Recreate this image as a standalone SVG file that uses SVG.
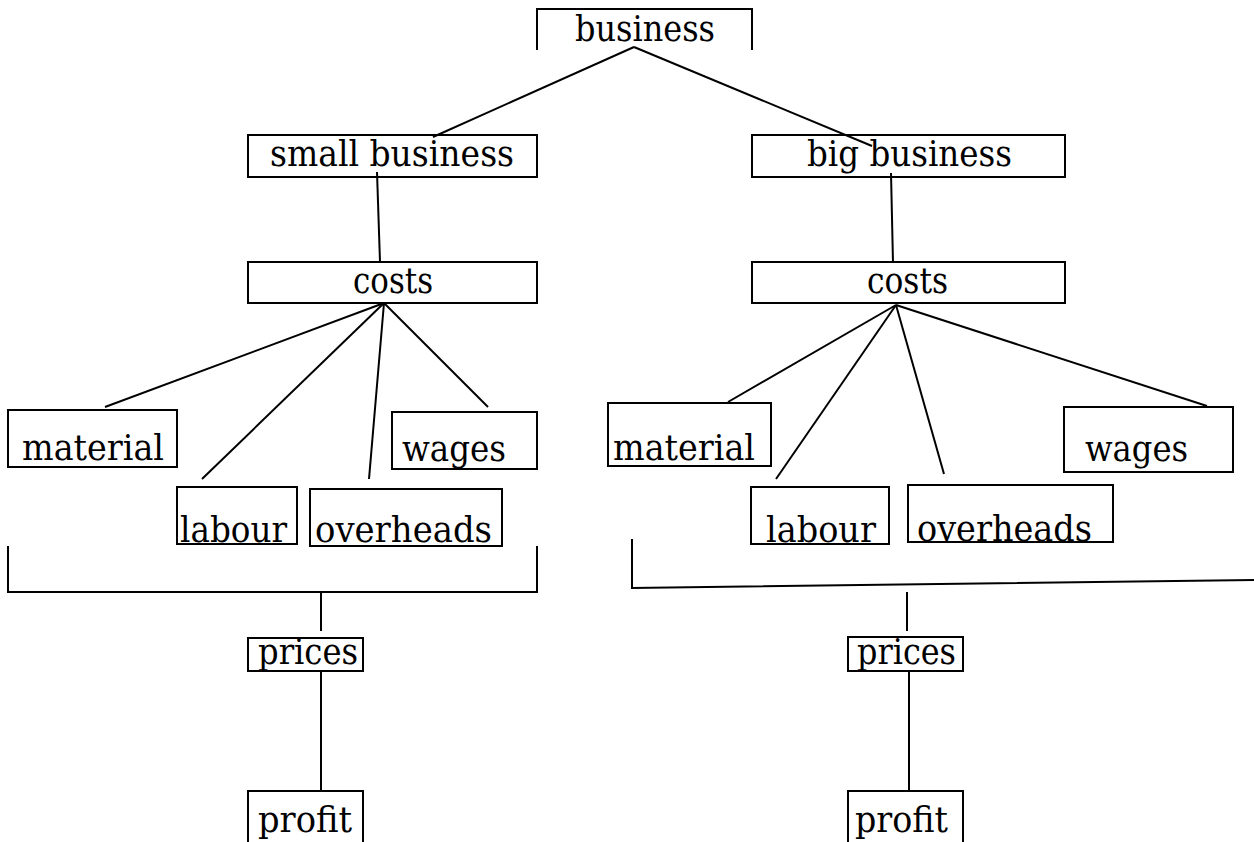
<svg xmlns="http://www.w3.org/2000/svg" width="1254" height="842" viewBox="0 0 1254 842">
  <style>
    .box { fill: none; stroke: #000; stroke-width: 2; }
    .lbl { font-family: "DejaVu Serif", "Liberation Serif", serif; font-size: 35px; fill: #000; }
    .edge { fill: none; stroke: #000; stroke-width: 2; }
  </style>
  <rect width="1254" height="842" fill="#fff"/>

  <g id="connectors">
    <line class="edge" x1="634" y1="47" x2="433" y2="137"/>
    <line class="edge" x1="634" y1="47" x2="872" y2="146"/>
    <line class="edge" x1="377" y1="172" x2="380" y2="262"/>
    <line class="edge" x1="891" y1="173" x2="893" y2="263"/>
    <!-- left cost fan -->
    <line class="edge" x1="384" y1="303" x2="105" y2="407"/>
    <line class="edge" x1="384" y1="303" x2="202" y2="479"/>
    <line class="edge" x1="384" y1="303" x2="369" y2="479"/>
    <line class="edge" x1="384" y1="303" x2="488" y2="407"/>
    <!-- right cost fan -->
    <line class="edge" x1="896" y1="305" x2="728" y2="402"/>
    <line class="edge" x1="896" y1="305" x2="776" y2="479"/>
    <line class="edge" x1="896" y1="305" x2="944" y2="474"/>
    <line class="edge" x1="896" y1="305" x2="1207" y2="406"/>
    <!-- brackets gathering the costs -->
    <polyline class="edge" points="8,546 8,592 537,592 537,546"/>
    <line class="edge" x1="321" y1="593" x2="321" y2="631"/>
    <polyline class="edge" points="632,539 632,588 1254,580"/>
    <line class="edge" x1="907" y1="592" x2="907" y2="631"/>
    <!-- prices to profit -->
    <line class="edge" x1="321" y1="671" x2="321" y2="791"/>
    <line class="edge" x1="909" y1="671" x2="909" y2="791"/>
  </g>

  <g id="business">
    <polyline class="box" points="537,50 537,9 752,9 752,50"/>
    <text class="lbl" x="575" y="41" textLength="140" lengthAdjust="spacingAndGlyphs">business</text>
  </g>

  <g id="small-business">
    <rect class="box" x="248" y="135" width="289" height="42"/>
    <text class="lbl" x="270" y="166" textLength="244" lengthAdjust="spacingAndGlyphs">small business</text>
  </g>
  <g id="big-business">
    <rect class="box" x="752" y="135" width="313" height="42"/>
    <text class="lbl" x="807" y="166" textLength="205" lengthAdjust="spacingAndGlyphs">big business</text>
  </g>

  <g id="costs-small">
    <rect class="box" x="248" y="262" width="289" height="41"/>
    <text class="lbl" x="353" y="293" textLength="80" lengthAdjust="spacingAndGlyphs">costs</text>
  </g>
  <g id="costs-big">
    <rect class="box" x="752" y="262" width="313" height="41"/>
    <text class="lbl" x="867" y="293" textLength="81" lengthAdjust="spacingAndGlyphs">costs</text>
  </g>

  <g id="material-small">
    <rect class="box" x="8" y="410" width="169" height="57"/>
    <text class="lbl" x="22" y="460" textLength="142" lengthAdjust="spacingAndGlyphs">material</text>
  </g>
  <g id="labour-small">
    <rect class="box" x="177" y="487" width="120" height="57"/>
    <text class="lbl" x="180" y="542" textLength="107" lengthAdjust="spacingAndGlyphs">labour</text>
  </g>
  <g id="overheads-small">
    <rect class="box" x="310" y="489" width="192" height="57"/>
    <text class="lbl" x="315" y="542" textLength="177" lengthAdjust="spacingAndGlyphs">overheads</text>
  </g>
  <g id="wages-small">
    <rect class="box" x="392" y="412" width="145" height="57"/>
    <text class="lbl" x="402" y="461" textLength="104" lengthAdjust="spacingAndGlyphs">wages</text>
  </g>

  <g id="material-big">
    <rect class="box" x="608" y="403" width="163" height="63"/>
    <text class="lbl" x="613" y="460" textLength="142" lengthAdjust="spacingAndGlyphs">material</text>
  </g>
  <g id="labour-big">
    <rect class="box" x="751" y="487" width="138" height="57"/>
    <text class="lbl" x="766" y="542" textLength="110" lengthAdjust="spacingAndGlyphs">labour</text>
  </g>
  <g id="overheads-big">
    <rect class="box" x="908" y="485" width="205" height="57"/>
    <text class="lbl" x="917" y="541" textLength="175" lengthAdjust="spacingAndGlyphs">overheads</text>
  </g>
  <g id="wages-big">
    <rect class="box" x="1064" y="407" width="169" height="65"/>
    <text class="lbl" x="1085" y="461" textLength="103" lengthAdjust="spacingAndGlyphs">wages</text>
  </g>

  <g id="prices-small">
    <rect class="box" x="248" y="638" width="115" height="33"/>
    <text class="lbl" x="258" y="664" textLength="100" lengthAdjust="spacingAndGlyphs">prices</text>
  </g>
  <g id="prices-big">
    <rect class="box" x="848" y="637" width="115" height="34"/>
    <text class="lbl" x="857" y="664" textLength="99" lengthAdjust="spacingAndGlyphs">prices</text>
  </g>

  <g id="profit-small">
    <polyline class="box" points="248,842 248,791 363,791 363,842"/>
    <text class="lbl" x="258" y="832" textLength="94" lengthAdjust="spacingAndGlyphs">profit</text>
  </g>
  <g id="profit-big">
    <polyline class="box" points="848,842 848,791 963,791 963,842"/>
    <text class="lbl" x="855" y="832" textLength="93" lengthAdjust="spacingAndGlyphs">profit</text>
  </g>
</svg>
